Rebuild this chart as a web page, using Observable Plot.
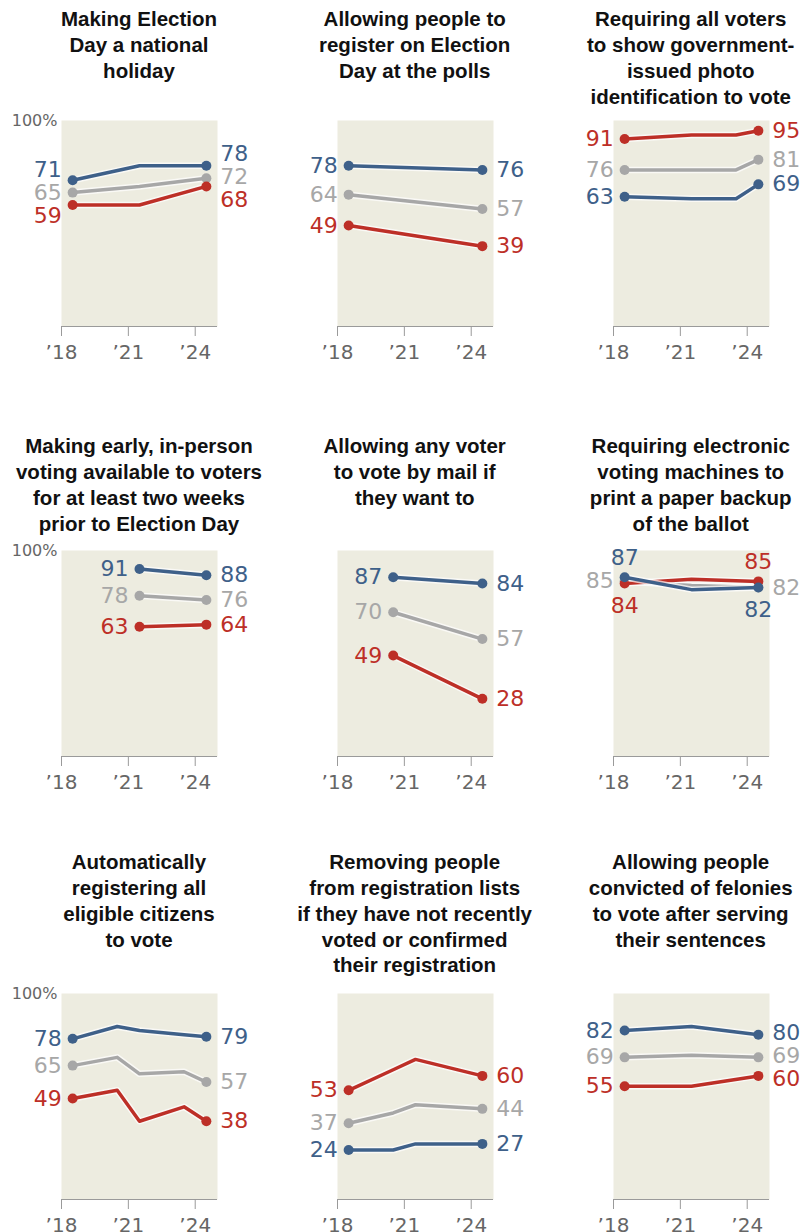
<!DOCTYPE html>
<html><head><meta charset="utf-8">
<script src="https://cdn.jsdelivr.net/npm/d3@7"></script>
<script src="https://cdn.jsdelivr.net/npm/@observablehq/plot@0.6"></script>
<style>
html,body{margin:0;padding:0;background:#fff;overflow:hidden;}
#chart{position:relative;width:803px;height:1232px;overflow:hidden;}
.title{position:absolute;width:300px;text-align:center;font-family:"Liberation Sans",Arial,sans-serif;font-weight:bold;font-size:20.5px;line-height:25.7px;color:#111;white-space:pre-line;}
.panel{position:absolute;}
</style></head><body><div id="chart"></div>
<script>
// ---------- DATA ----------
const titles = [
  "Making Election\nDay a national\nholiday",
  "Allowing people to\nregister on Election\nDay at the polls",
  "Requiring all voters\nto show government-\nissued photo\nidentification to vote",
  "Making early, in-person\nvoting available to voters\nfor at least two weeks\nprior to Election Day",
  "Allowing any voter\nto vote by mail if\nthey want to",
  "Requiring electronic\nvoting machines to\nprint a paper backup\nof the ballot",
  "Automatically\nregistering all\neligible citizens\nto vote",
  "Removing people\nfrom registration lists\nif they have not recently\nvoted or confirmed\ntheir registration",
  "Allowing people\nconvicted of felonies\nto vote after serving\ntheir sentences"
];
const surveyYears = [
  [2018.5, 2021.5, 2024.5],
  [2018.5, 2024.5],
  [2018.5, 2021.5, 2023.5, 2024.5],
  [2021.5, 2024.5],
  [2020.5, 2024.5],
  [2018.5, 2021.5, 2024.5],
  [2018.5, 2020.5, 2021.5, 2023.5, 2024.5],
  [2018.5, 2020.5, 2021.5, 2024.5],
  [2018.5, 2021.5, 2024.5]
];
const demValues = [
  [71, 78, 78],
  [78, 76],
  [63, 62, 62, 69],
  [91, 88],
  [87, 84],
  [87, 81, 82],
  [78, 84, 82, 80, 79],
  [24, 24, 27, 27],
  [82, 84, 80]
];
const totalValues = [
  [65, 68, 72],
  [64, 57],
  [76, 76, 76, 81],
  [78, 76],
  [70, 57],
  [85, 83, 82],
  [65, 69, 61, 62, 57],
  [37, 42, 46, 44],
  [69, 70, 69]
];
const repValues = [
  [59, 59, 68],
  [49, 39],
  [91, 93, 93, 95],
  [63, 64],
  [49, 28],
  [84, 86, 85],
  [49, 53, 38, 45, 38],
  [53, 63, 68, 60],
  [55, 55, 60]
];
const tickYears = [2018, 2021, 2024];
const tickLabels = ["\u201918", "\u201921", "\u201924"];
const yMaxValue = 100;
const yMaxLabel = "100%";

// ---------- STYLE / LAYOUT ----------
const seriesOrder = ["Total", "Rep", "Dem"]; // draw order
const colors = {Dem: "#3e6089", Rep: "#bd2f27", Total: "#a7a7a7"};
const stackPanels = [5]; // label mode where labels sit above/below dots
const beigeLeft = [61, 336.7, 612.7];
const beigeTop = [119.5, 550, 993];
const titleTop = [6.4, 433.4, 849.4];
const plotW = 156, plotH = 206;
const ML = 52, MR = 34, MT = 24, MB = 46;
const pxPerUnit = plotH / 100;
const labelGap = 23 / pxPerUnit;
const numFont = "DejaVu Sans, Verdana, sans-serif";

function dodge(vals, gap) {
  const items = vals.map((y, i) => ({i, y})).sort((a, b) => a.y - b.y);
  for (let it = 0; it < 500; it++) {
    let moved = false;
    for (let k = 1; k < items.length; k++) {
      const d = items[k].y - items[k - 1].y;
      if (d < gap - 1e-6) { const s = (gap - d) / 2; items[k].y += s; items[k - 1].y -= s; moved = true; }
    }
    if (!moved) break;
  }
  const out = []; items.forEach(o => out[o.i] = o.y); return out;
}

const chart = document.getElementById("chart");

titles.forEach((title, p) => {
  const r = Math.floor(p / 3), c = p % 3;
  const valuesBy = {Dem: demValues[p], Rep: repValues[p], Total: totalValues[p]};
  const yrs = surveyYears[p];
  const n = yrs.length;

  const rows = [];
  for (const s of seriesOrder) valuesBy[s].forEach((v, i) => rows.push({series: s, year: yrs[i], value: v}));
  const ends = rows.filter(d => d.year === yrs[0] || d.year === yrs[n - 1]);

  // label placement
  const labelGroups = {startSide: [], endSide: [], above: [], below: []};
  for (const [which, yr] of [["start", yrs[0]], ["end", yrs[n - 1]]]) {
    const pts = seriesOrder.map(s => ({series: s, year: yr, value: valuesBy[s][which === "start" ? 0 : n - 1]}));
    if (stackPanels.includes(p)) {
      const others = pts.filter(d => d.series !== "Total").sort((a, b) => b.value - a.value);
      labelGroups.above.push({...others[0], ly: others[0].value});
      labelGroups.below.push({...others[1], ly: others[1].value});
      const t = pts.find(d => d.series === "Total");
      labelGroups[which + "Side"].push({...t, ly: t.value});
    } else {
      const adj = dodge(pts.map(d => d.value), labelGap);
      pts.forEach((d, i) => labelGroups[which + "Side"].push({...d, ly: adj[i]}));
    }
  }
  const textOpts = (extra) => ({x: "year", y: "ly", text: d => String(d.value), fill: d => colors[d.series],
    fontSize: 22, fontFamily: numFont, ...extra});

  const marks = [
    Plot.frame({fill: "#edece0", stroke: "none"}),
    Plot.ruleY([0], {stroke: "#9a9a9a", strokeWidth: 1}),
    Plot.axisX({ticks: tickYears, tickFormat: d => tickLabels[tickYears.indexOf(d)], tickSize: 10, tickPadding: 8,
      fontSize: 20, fontFamily: numFont, stroke: "#9a9a9a", fill: "#666", label: null})
  ];
  for (const s of seriesOrder) {
    const sr = rows.filter(d => d.series === s);
    marks.push(Plot.line(sr, {x: "year", y: "value", stroke: "#fff", strokeWidth: 6.5, strokeOpacity: 0.7}));
    marks.push(Plot.line(sr, {x: "year", y: "value", stroke: colors[s], strokeWidth: 3.5}));
    marks.push(Plot.dot(ends.filter(d => d.series === s), {x: "year", y: "value", r: 5, fill: colors[s], stroke: "none"}));
  }
  marks.push(Plot.text(labelGroups.startSide, textOpts({textAnchor: "end", dx: -11})));
  marks.push(Plot.text(labelGroups.endSide, textOpts({textAnchor: "start", dx: 14})));
  marks.push(Plot.text(labelGroups.above, textOpts({textAnchor: "middle", dy: -19})));
  marks.push(Plot.text(labelGroups.below, textOpts({textAnchor: "middle", dy: 22})));
  if (c === 0) {
    marks.push(Plot.text([{year: tickYears[0], v: yMaxValue}], {x: "year", y: "v", text: () => yMaxLabel,
      textAnchor: "end", dx: -4, fontSize: 16, fontFamily: numFont, fill: "#666"}));
  }

  const svg = Plot.plot({
    width: ML + plotW + MR, height: MT + plotH + MB,
    marginLeft: ML, marginRight: MR, marginTop: MT, marginBottom: MB,
    style: {background: "transparent", overflow: "visible", color: "#666"},
    x: {domain: [2018, 2025], label: null},
    y: {domain: [0, 100], axis: null},
    marks
  });
  svg.classList.add("panel");
  svg.style.position = "absolute";
  svg.style.left = (beigeLeft[c] - ML) + "px";
  svg.style.top = (beigeTop[r] - MT) + "px";
  chart.appendChild(svg);

  const t = document.createElement("div");
  t.className = "title";
  t.textContent = title;
  t.style.left = (beigeLeft[c] + plotW / 2 - 150) + "px";
  t.style.top = titleTop[r] + "px";
  chart.appendChild(t);
});
</script>
</body></html>
